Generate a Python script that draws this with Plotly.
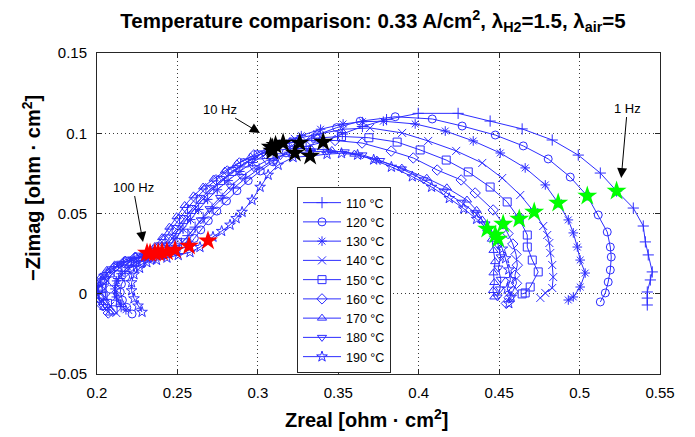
import plotly.graph_objects as go

# Nyquist spectra, high frequency -> low frequency, (Zreal, -Zimag) in ohm*cm^2
curve_110 = [(0.215, -0.008), (0.2122, -0.004), (0.2108, 0.0005), (0.2112, 0.005), (0.2135, 0.0095),
             (0.2175, 0.0138), (0.2228, 0.0175), (0.2292, 0.0208), (0.236, 0.0235), (0.2425, 0.0255),
             (0.2485, 0.0273), (0.2525, 0.0315), (0.2565, 0.0362), (0.261, 0.0415), (0.266, 0.0472),
             (0.2715, 0.0532), (0.2778, 0.0595), (0.2848, 0.0658), (0.2925, 0.072), (0.3008, 0.0778),
             (0.3095, 0.0832), (0.3195, 0.0882), (0.33, 0.0918), (0.3406, 0.0945), (0.3525, 0.0995),
             (0.365, 0.1042), (0.38, 0.1085), (0.3997, 0.1124), (0.4245, 0.1124), (0.4444, 0.1076),
             (0.4643, 0.1027), (0.483, 0.0958), (0.4992, 0.0864), (0.5129, 0.0752), (0.523, 0.064),
             (0.5334, 0.0534), (0.5396, 0.0422), (0.5409, 0.0323), (0.5427, 0.0242), (0.5452, 0.0136),
             (0.544, 0.0086), (0.5421, 0.0011), (0.5421, -0.0027), (0.5421, -0.007)]

curve_120 = [(0.2218, -0.0126), (0.2185, -0.0085), (0.2158, -0.004), (0.2145, 0.001), (0.2152, 0.006),
             (0.2178, 0.0105), (0.2222, 0.0148), (0.228, 0.0185), (0.2345, 0.0215), (0.2415, 0.024),
             (0.2492, 0.0265), (0.2572, 0.0298), (0.2605, 0.0345), (0.2645, 0.0398), (0.2692, 0.0455),
             (0.2745, 0.0515), (0.2805, 0.0578), (0.287, 0.0642), (0.294, 0.0705), (0.3015, 0.0765),
             (0.3095, 0.0822), (0.3175, 0.0878), (0.326, 0.094), (0.337, 0.099), (0.349, 0.1035),
             (0.3636, 0.1075), (0.3854, 0.1103), (0.4084, 0.1089), (0.427, 0.1045), (0.4476, 0.0989),
             (0.465, 0.0921), (0.4805, 0.084), (0.4942, 0.0727), (0.5048, 0.0609), (0.5116, 0.0491),
             (0.5172, 0.0385), (0.5191, 0.0291), (0.5197, 0.0229), (0.5191, 0.0148), (0.5178, 0.0073),
             (0.516, 0.0005), (0.5129, -0.0051)]

curve_130 = [(0.218, -0.010), (0.2145, -0.0065), (0.212, -0.002), (0.2112, 0.003), (0.2122, 0.008),
             (0.215, 0.0125), (0.2192, 0.0165), (0.2245, 0.0198), (0.2305, 0.0225), (0.2358, 0.0245),
             (0.2404, 0.026), (0.2448, 0.0298), (0.249, 0.0345), (0.2535, 0.0402), (0.2582, 0.0462),
             (0.2632, 0.0525), (0.2688, 0.0588), (0.2748, 0.0648), (0.2815, 0.0705), (0.2888, 0.0762),
             (0.2968, 0.0818), (0.3058, 0.0878), (0.3157, 0.094), (0.327, 0.0985), (0.339, 0.1025),
             (0.353, 0.1058), (0.365, 0.1072), (0.378, 0.1075), (0.3978, 0.1058), (0.4165, 0.1014),
             (0.4339, 0.0952), (0.4507, 0.0877), (0.4662, 0.0784), (0.4787, 0.0678), (0.4867, 0.0566),
             (0.493, 0.046), (0.4961, 0.0379), (0.4986, 0.0291), (0.5004, 0.021), (0.5035, 0.0129),
             (0.5004, 0.0042), (0.4961, -0.002), (0.493, -0.0039)]

curve_140 = [(0.212, -0.012), (0.2082, -0.0075), (0.2055, -0.0025), (0.2048, 0.003), (0.2062, 0.008),
             (0.2095, 0.0125), (0.2142, 0.0163), (0.2202, 0.0198), (0.2268, 0.0225), (0.2328, 0.0243),
             (0.238, 0.0256), (0.2425, 0.0295), (0.2468, 0.0345), (0.2512, 0.0405), (0.2558, 0.0467),
             (0.2608, 0.053), (0.2662, 0.0593), (0.2722, 0.0655), (0.2788, 0.0712), (0.2858, 0.0768),
             (0.2935, 0.082), (0.3018, 0.0872), (0.311, 0.0925), (0.323, 0.0965), (0.337, 0.0995),
             (0.353, 0.1025), (0.3698, 0.1033), (0.3897, 0.1002), (0.4059, 0.0952), (0.4233, 0.089),
             (0.4395, 0.0815), (0.4519, 0.0721), (0.4631, 0.0615), (0.4718, 0.0509), (0.4774, 0.0422),
             (0.4799, 0.0366), (0.4812, 0.0316), (0.4818, 0.0254), (0.483, 0.0179), (0.4836, 0.0104),
             (0.483, 0.0036), (0.4787, 0.0005), (0.4756, -0.0026)]

curve_150 = [(0.21, -0.01), (0.2065, -0.006), (0.2038, -0.0015), (0.2032, 0.0035), (0.2048, 0.0085),
             (0.2082, 0.013), (0.213, 0.0168), (0.219, 0.0203), (0.2255, 0.0228), (0.231, 0.0243),
             (0.236, 0.0254), (0.2405, 0.0292), (0.2448, 0.0342), (0.2492, 0.04), (0.2538, 0.0462),
             (0.2588, 0.0525), (0.2642, 0.0588), (0.2702, 0.0648), (0.2768, 0.0705), (0.284, 0.0762),
             (0.2918, 0.0815), (0.3002, 0.0865), (0.309, 0.0908), (0.322, 0.0945), (0.336, 0.097),
             (0.352, 0.098), (0.369, 0.0972), (0.3866, 0.0945), (0.4009, 0.0896), (0.4171, 0.0833),
             (0.4308, 0.0759), (0.4444, 0.0665), (0.455, 0.0572), (0.4625, 0.0466), (0.4675, 0.0366),
             (0.4675, 0.0291), (0.4706, 0.021), (0.4743, 0.0136), (0.4693, 0.0042), (0.4662, 0.0005),
             (0.4643, -0.0001)]

curve_160 = [(0.207, -0.012), (0.2035, -0.0075), (0.2012, -0.0025), (0.2008, 0.0025), (0.2025, 0.0075),
             (0.2058, 0.012), (0.2105, 0.016), (0.2165, 0.0195), (0.2235, 0.0225), (0.229, 0.024),
             (0.233, 0.0252), (0.2375, 0.029), (0.2418, 0.034), (0.2462, 0.04), (0.251, 0.0465),
             (0.256, 0.053), (0.2615, 0.0595), (0.2675, 0.0655), (0.274, 0.071), (0.281, 0.0765),
             (0.2885, 0.0815), (0.2975, 0.0865), (0.308, 0.0915), (0.32, 0.094), (0.333, 0.0955),
             (0.348, 0.0955), (0.3648, 0.0939), (0.3829, 0.0889), (0.3966, 0.0846), (0.4115, 0.0771),
             (0.4264, 0.0709), (0.4351, 0.0628), (0.4463, 0.0522), (0.4525, 0.0435), (0.4555, 0.0375),
             (0.4585, 0.031), (0.4605, 0.0245), (0.4613, 0.0178), (0.4598, 0.0115), (0.4608, 0.0065),
             (0.4585, 0.0015), (0.4562, -0.0025), (0.4545, -0.006)]

curve_170 = [(0.2081, -0.012), (0.2045, -0.0085), (0.2012, -0.004), (0.2, 0.001), (0.2005, 0.006),
             (0.2025, 0.0105), (0.206, 0.0145), (0.211, 0.018), (0.2175, 0.021), (0.224, 0.0235),
             (0.2311, 0.0254), (0.236, 0.0295), (0.2405, 0.035), (0.245, 0.0415), (0.2495, 0.048),
             (0.2545, 0.055), (0.26, 0.061), (0.266, 0.0665), (0.2725, 0.0715), (0.2795, 0.0765),
             (0.287, 0.081), (0.2955, 0.0852), (0.309, 0.089), (0.321, 0.0905), (0.333, 0.0905),
             (0.346, 0.0893), (0.36, 0.087), (0.374, 0.0833), (0.3895, 0.0783), (0.405, 0.072),
             (0.4175, 0.066), (0.43, 0.0584), (0.436, 0.052), (0.4395, 0.046), (0.4426, 0.0404),
             (0.4455, 0.034), (0.4465, 0.027), (0.4475, 0.02), (0.4465, 0.013), (0.447, 0.007),
             (0.4462, 0.002), (0.447, -0.002)]

curve_180 = [(0.204, -0.008), (0.2015, -0.004), (0.2003, 0.001), (0.201, 0.006), (0.204, 0.011),
             (0.209, 0.0155), (0.215, 0.019), (0.222, 0.0215), (0.229, 0.0235), (0.236, 0.025),
             (0.2435, 0.0262), (0.249, 0.029), (0.254, 0.033), (0.259, 0.039), (0.2645, 0.046),
             (0.27, 0.053), (0.2765, 0.06), (0.283, 0.067), (0.29, 0.073), (0.2975, 0.0785),
             (0.3055, 0.083), (0.314, 0.086), (0.323, 0.0877), (0.333, 0.0885), (0.343, 0.0888),
             (0.354, 0.0884), (0.365, 0.0865), (0.376, 0.083), (0.3895, 0.0778), (0.403, 0.071),
             (0.4155, 0.064), (0.4265, 0.057), (0.435, 0.0505), (0.4415, 0.0435), (0.4476, 0.0366),
             (0.4495, 0.03), (0.451, 0.023), (0.4495, 0.016), (0.451, 0.009), (0.4505, 0.003),
             (0.449, -0.002)]

curve_190 = [(0.228, -0.0114), (0.2255, -0.0075), (0.223, -0.003), (0.2215, 0.002), (0.2215, 0.007),
             (0.223, 0.012), (0.2265, 0.016), (0.231, 0.0195), (0.237, 0.021), (0.2435, 0.0224),
             (0.2505, 0.024), (0.2578, 0.0258), (0.264, 0.029), (0.269, 0.033), (0.2721, 0.0354),
             (0.2775, 0.039), (0.2827, 0.0429), (0.2865, 0.047), (0.2902, 0.0509), (0.2964, 0.0584),
             (0.3014, 0.0665), (0.3064, 0.074), (0.3126, 0.0802), (0.3219, 0.085), (0.3325, 0.0858),
             (0.343, 0.087), (0.352, 0.0875), (0.362, 0.0865), (0.372, 0.0835), (0.383, 0.079),
             (0.396, 0.073), (0.408, 0.0665), (0.419, 0.0595), (0.428, 0.053), (0.436, 0.0465),
             (0.443, 0.04), (0.4494, 0.0341), (0.452, 0.028), (0.454, 0.022), (0.456, 0.015),
             (0.457, 0.009), (0.455, 0.003), (0.4575, -0.002), (0.456, -0.006)]

temperatures = ["110 °C", "120 °C", "130 °C", "140 °C", "150 °C",
                "160 °C", "170 °C", "180 °C", "190 °C"]
curves = [curve_110, curve_120, curve_130, curve_140, curve_150,
          curve_160, curve_170, curve_180, curve_190]
symbols = ["cross-thin-open", "circle-open", "asterisk-open", "x-thin-open", "square-open",
           "diamond-open", "triangle-up-open", "triangle-down-open", "star-open"]

# Points at 100 Hz, 10 Hz and 1 Hz for each temperature (110 ... 190 °C)
f100_x = [0.2485, 0.2572, 0.2404, 0.238, 0.236, 0.233, 0.2311, 0.2435, 0.269]
f100_y = [0.0273, 0.0298, 0.026, 0.0256, 0.0254, 0.0252, 0.0254, 0.0262, 0.033]
f10_x = [0.3406, 0.326, 0.3157, 0.311, 0.309, 0.308, 0.309, 0.323, 0.3325]
f10_y = [0.0945, 0.094, 0.094, 0.0925, 0.0908, 0.0915, 0.089, 0.0877, 0.0858]
f1_x = [0.523, 0.5048, 0.4867, 0.4718, 0.4625, 0.4525, 0.4426, 0.4476, 0.4494]
f1_y = [0.064, 0.0609, 0.0566, 0.0509, 0.0466, 0.0435, 0.0404, 0.0366, 0.0341]

BLUE = "rgb(45,45,255)"
FONT = "Liberation Sans, Arial, Helvetica, sans-serif"

fig = go.Figure()

for name, pts, sym in zip(temperatures, curves, symbols):
    fig.add_trace(go.Scatter(
        x=[p[0] for p in pts], y=[p[1] for p in pts],
        mode="lines+markers", name=name,
        line=dict(color=BLUE, width=1),
        marker=dict(symbol=sym, size=8, color=BLUE, line=dict(color=BLUE, width=1)),
    ))

for xs, ys, col in [(f100_x, f100_y, "#ff0000"), (f10_x, f10_y, "#000000"), (f1_x, f1_y, "#00ff00")]:
    fig.add_trace(go.Scatter(
        x=xs, y=ys, mode="markers", showlegend=False,
        marker=dict(symbol="star", size=15, color=col, line=dict(width=0)),
    ))

# frequency call-outs
callouts = [("100 Hz", 0.2286, 0.0322, 0.2224, 0.0665),
            ("10 Hz", 0.3013, 0.1002, 0.2765, 0.1151),
            ("1 Hz", 0.5259, 0.0721, 0.5297, 0.1157)]
for text, x, y, ax, ay in callouts:
    fig.add_annotation(x=x, y=y, ax=ax, ay=ay, xref="x", yref="y", axref="x", ayref="y",
                       text=text, showarrow=True, arrowhead=2, arrowsize=2, arrowwidth=1,
                       arrowcolor="black", font=dict(size=13, color="black", family=FONT))

axis_common = dict(
    showline=True, linecolor="#262626", linewidth=1, mirror="ticks",
    ticks="inside", ticklen=5, tickcolor="#262626",
    showgrid=True, gridcolor="#3a3a3a", gridwidth=1, griddash="1px,3px",
    zeroline=False, tickfont=dict(size=15, color="black", family=FONT),
)

fig.update_xaxes(range=[0.2, 0.55], tick0=0.2, dtick=0.05, ticklabelstandoff=5, **axis_common)
fig.update_yaxes(range=[-0.05, 0.15], tick0=0, dtick=0.05, ticklabelstandoff=6, **axis_common)

fig.add_annotation(text="<b>Zreal [ohm · cm<sup>2</sup>]</b>", xref="paper", yref="paper",
                   x=(366 - 97) / 563, y=-(418 - 374) / 321, showarrow=False,
                   font=dict(size=20, color="black", family=FONT), yanchor="middle")
fig.add_annotation(text="<b>−Zimag [ohm · cm<sup>2</sup>]</b>", xref="paper", yref="paper",
                   x=-(97 - 31) / 563, y=(374 - 188) / 321, showarrow=False, textangle=-90,
                   font=dict(size=20, color="black", family=FONT), xanchor="center", yanchor="middle")

fig.update_layout(
    width=695, height=437,
    margin=dict(l=97, r=35, t=53, b=63),
    paper_bgcolor="white", plot_bgcolor="white",
    font=dict(family=FONT, color="black"),
    title=dict(text="<b>Temperature comparison: 0.33 A/cm<sup>2</sup>, λ<sub>H2</sub>=1.5, λ<sub>air</sub>=5</b>",
               x=(373 - 97) / 563, xref="paper", xanchor="center",
               y=1 - 21 / 437, yref="container", yanchor="middle",
               font=dict(size=20.5, color="black", family=FONT)),
    legend=dict(x=(297 - 97) / 563, y=(374 - 187) / 321, xanchor="left", yanchor="top",
                bordercolor="#262626", borderwidth=1, bgcolor="white",
                font=dict(size=12.5, color="black", family=FONT), tracegroupgap=0, itemwidth=38),
    showlegend=True,
)

fig.write_html("out.html")
